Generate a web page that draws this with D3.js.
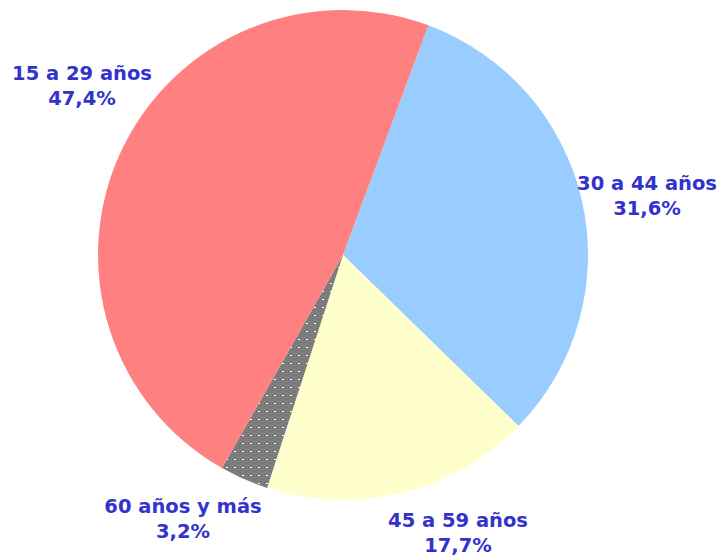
<html>
<head>
  <meta charset="utf-8">
  <title>Pie</title>
  <script src='https://d3js.org/d3.v7.min.js'></script>
</head>
<body style="margin:0;background:#fff">
<script>

var categories = ["30 a 44 años", "45 a 59 años", "60 años y más", "15 a 29 años"];
var values = [31.6, 17.7, 3.2, 47.4];
var valueLabels = ["31,6%", "17,7%", "3,2%", "47,4%"];

var colors = ["#99CCFF", "#FFFFCC", "url(#checker)", "#FF8080"];

// label centres (first line baseline), Excel-style placement
var labelPos = [[647, 190], [458, 527], [183, 513], [82, 80]];

var width = 718,
    height = 556,
    cx = 343, cy = 255, radius = 245;

var svg = d3.select('body')
  .append('svg')
  .attr('width', width)
  .attr('height', height);

// fine dotted-grey fill for the small slice
var defs = svg.append('defs');
var pat = defs.append('pattern')
  .attr('id', 'checker')
  .attr('patternUnits', 'userSpaceOnUse')
  .attr('width', 8)
  .attr('height', 8);
pat.append('rect').attr('width', 8).attr('height', 8).attr('fill', '#7c7c7c');
pat.append('rect').attr('x', 3).attr('y', 4).attr('width', 2).attr('height', 1)
  .attr('fill', '#fff').attr('shape-rendering', 'crispEdges');

var start = 20.4 * Math.PI / 180;

var pie = d3.pie()
  .sort(null)
  .startAngle(start)
  .endAngle(start + 2 * Math.PI)
  .value(function(d) { return d; });

var arc = d3.arc().innerRadius(0).outerRadius(radius);

var g = svg.append('g')
  .attr('transform', 'translate(' + cx + ',' + cy + ')');

g.selectAll('path')
  .data(pie(values))
  .enter()
  .append('path')
  .attr('d', arc)
  .attr('fill', function(d, i) { return colors[i]; });

var labels = svg.selectAll('.lbl')
  .data(categories)
  .enter()
  .append('text')
  .attr('class', 'lbl')
  .attr('text-anchor', 'middle')
  .attr('font-family', 'DejaVu Sans, Verdana, sans-serif')
  .attr('font-weight', 'bold')
  .attr('font-size', 19.5)
  .attr('fill', '#3333CC');

labels.append('tspan')
  .attr('x', function(d, i) { return labelPos[i][0]; })
  .attr('y', function(d, i) { return labelPos[i][1]; })
  .text(function(d) { return d; });

labels.append('tspan')
  .attr('x', function(d, i) { return labelPos[i][0]; })
  .attr('y', function(d, i) { return labelPos[i][1] + 25; })
  .text(function(d, i) { return valueLabels[i]; });

</script>
</body>
</html>
